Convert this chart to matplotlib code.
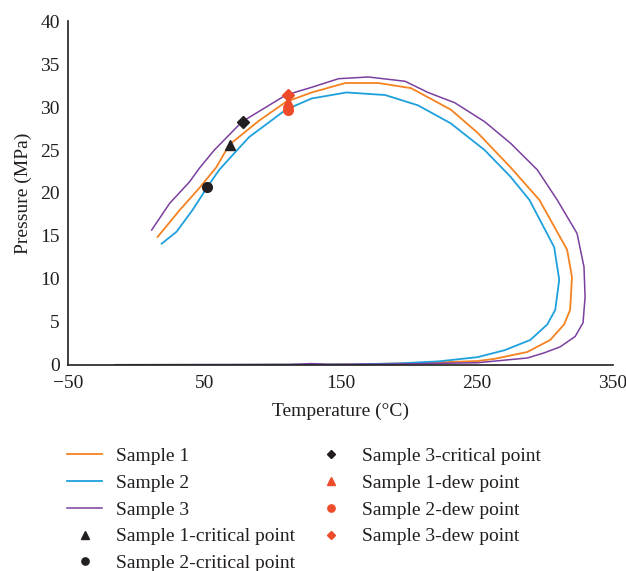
import matplotlib.pyplot as plt

# Sample 1 (orange) phase envelope
s1_t = [15.7, 31.8, 46.4, 58.8, 68.2, 90.0, 109.9, 128.8, 153.6, 177.7, 201.8, 231.0, 250.7,
        274.8, 296.0, 316.4, 320.0, 318.6, 314.2, 304.0, 287.2, 263.1, 250.7, 207.0, 155.8, -15.7]
s1_p = [14.9, 18.0, 20.6, 23.0, 25.6, 28.4, 30.6, 31.7, 32.8, 32.8, 32.2, 29.7, 27.0,
        23.0, 19.2, 13.4, 10.2, 6.4, 4.7, 2.9, 1.5, 0.7, 0.45, 0.2, 0.05, 0.0]

# Sample 2 (blue)
s2_t = [18.6, 29.6, 41.2, 52.2, 60.9, 74.1, 82.8, 109.9, 128.8, 154.4, 182.8, 206.9, 231.0,
        255.8, 274.8, 288.7, 306.9, 310.6, 307.7, 301.8, 289.4, 270.4, 250.7, 221.5, 192.3,
        155.8, -15.7]
s2_p = [14.1, 15.5, 18.0, 20.7, 22.7, 25.0, 26.5, 29.7, 31.0, 31.7, 31.4, 30.2, 28.1,
        25.0, 21.9, 19.2, 13.7, 9.9, 6.4, 4.7, 2.9, 1.7, 0.9, 0.4, 0.17,
        0.05, 0.0]

# Sample 3 (purple)
s3_t = [11.3, 24.5, 39.1, 46.4, 57.3, 77.7, 109.9, 128.8, 148.5, 170.4, 197.4, 214.2, 233.9,
        255.8, 274.8, 294.5, 309.1, 323.7, 328.8, 329.6, 328.1, 322.3, 311.3, 299.6, 287.2,
        250.7, 192.3, 141.0, 128.8, 112.0, 46.0, -15.7]
s3_p = [15.7, 18.8, 21.3, 22.9, 25.0, 28.3, 31.4, 32.3, 33.3, 33.5, 33.0, 31.7, 30.5,
        28.3, 25.8, 22.7, 19.2, 15.3, 11.4, 7.9, 4.9, 3.3, 2.1, 1.4, 0.8,
        0.25, 0.1, 0.05, 0.15, 0.03, 0.0, 0.0]

# critical points (T, P)
crit_t = [69.0, 52.2, 78.5]
crit_p = [25.6, 20.7, 28.3]
# dew points
dew_t = [111.3, 111.3, 111.3]
dew_p = [30.6, 29.7, 31.4]

markers = ['^', 'o', 'D']
line_colors = ['#F58220', '#1EA0DC', '#7B3FA0']
dew_color = '#EE4B2B'

plt.rcParams['font.family'] = ['Liberation Serif', 'DejaVu Serif']
plt.rcParams['font.size'] = 14

fig = plt.figure(figsize=(6.26, 5.71), dpi=100)
ax = fig.add_axes([0.109, 0.361, 0.870, 0.602])

ax.plot(s1_t, s1_p, color=line_colors[0], lw=1.3, label='Sample 1')
ax.plot(s2_t, s2_p, color=line_colors[1], lw=1.3, label='Sample 2')
ax.plot(s3_t, s3_p, color=line_colors[2], lw=1.1, label='Sample 3')

for i in range(3):
    ax.plot(crit_t[i], crit_p[i], linestyle='none', marker=markers[i], color='#231F20',
            markersize=7 if markers[i] != 'D' else 6, label=f'Sample {i+1}-critical point')
for i in range(3):
    ax.plot(dew_t[i], dew_p[i], linestyle='none', marker=markers[i], color=dew_color,
            markersize=7 if markers[i] != 'D' else 6, label=f'Sample {i+1}-dew point', zorder=3)

ax.set_xlim(-50, 350)
ax.set_ylim(0, 40)
ax.set_xticks([-50, 50, 150, 250, 350])
ax.set_yticks(range(0, 41, 5))
ax.tick_params(length=0, pad=7, colors='#231F20')
ax.tick_params(axis='y', pad=6)
ax.set_xlabel('Temperature (°C)', color='#231F20', labelpad=8)
ax.set_ylabel('Pressure (MPa)', color='#231F20', labelpad=6)

ax.spines['top'].set_visible(False)
ax.spines['right'].set_visible(False)
for s in ['left', 'bottom']:
    ax.spines[s].set_linewidth(1.2)
    ax.spines[s].set_color('#231F20')

leg = ax.legend(loc='upper left', bbox_to_anchor=(0.095, 0.23), bbox_transform=fig.transFigure,
                ncol=2, frameon=False, handlelength=1.8, handletextpad=0.7,
                columnspacing=0.95, labelspacing=0.47, markerscale=0.75, borderaxespad=0)
for t in leg.get_texts():
    t.set_color('#231F20')

plt.savefig('out.png', dpi=100)
